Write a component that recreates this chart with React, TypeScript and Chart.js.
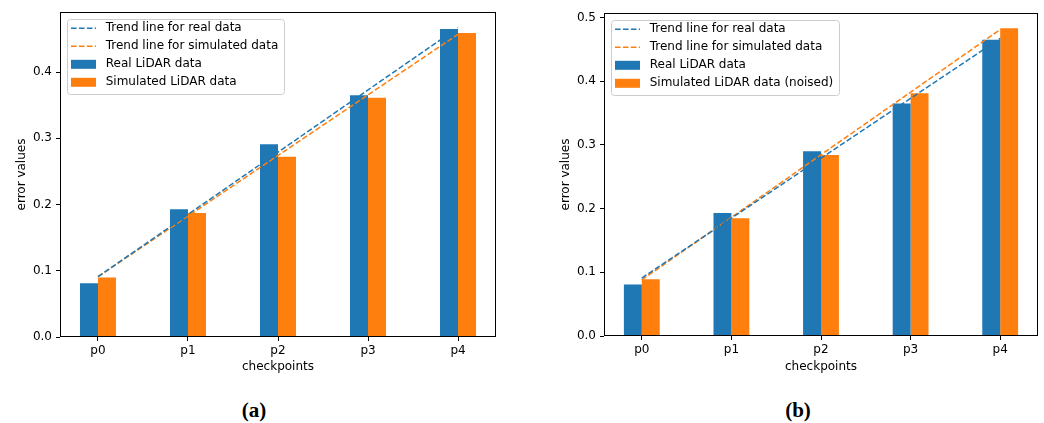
import React, { useEffect, useRef } from 'react';
import { Chart, registerables } from 'chart.js';

Chart.register(...registerables);

// ---------- data ----------
const categories = ['p0', 'p1', 'p2', 'p3', 'p4'];
const trendX = [0, 4];

const realA = [0.081, 0.193, 0.291, 0.365, 0.465];
const simA = [0.090, 0.187, 0.272, 0.361, 0.459];
const trendRealA = [0.091, 0.467];
const trendSimA = [0.091, 0.457];
const yTicksA = [0, 0.1, 0.2, 0.3, 0.4];

const realB = [0.081, 0.193, 0.290, 0.365, 0.465];
const simB = [0.089, 0.185, 0.284, 0.381, 0.483];
const trendRealB = [0.091, 0.467];
const trendSimB = [0.088, 0.481];
const yTicksB = [0, 0.1, 0.2, 0.3, 0.4, 0.5];

const labelTrendReal = 'Trend line for real data';
const labelTrendSim = 'Trend line for simulated data';
const labelReal = 'Real LiDAR data';
const labelSimA = 'Simulated LiDAR data';
const labelSimB = 'Simulated LiDAR data (noised)';
const xTitle = 'checkpoints';
const yTitle = 'error values';

// ---------- styles ----------
const BLUE = '#1f77b4';
const ORANGE = '#ff7f0e';
const FAMILY = "'DejaVu Sans', sans-serif";
const FSIZE = 12;
const DASH = [5.55, 2.4];

const mplPlugin = {
  id: 'mplFrameLegend',
  afterDatasetsDraw(chart: any) {
    const ctx = chart.ctx as CanvasRenderingContext2D;
    const { left, top, right, bottom } = chart.chartArea;
    ctx.save();
    // spines
    ctx.strokeStyle = '#000';
    ctx.lineWidth = 1;
    ctx.setLineDash([]);
    const l = Math.floor(left) + 0.5;
    const t = Math.floor(top) + 0.5;
    const r = Math.round(right) - 0.5;
    const b = Math.round(bottom) - 0.5;
    ctx.strokeRect(l, t, r - l, b - t);

    // legend
    const ds = chart.data.datasets;
    ctx.font = `${FSIZE}px ${FAMILY}`;
    const widths = ds.map((d: any) => ctx.measureText(d.label).width);
    const maxW = Math.max(...widths);
    const lx = left + 6.7;
    const ly = top + 7;
    const w = 4.3 + 34.7 + maxW + 5.4;
    const h = 75;
    ctx.beginPath();
    (ctx as any).roundRect(Math.round(lx) + 0.5, Math.round(ly) + 0.5, w, h, 3);
    ctx.fillStyle = 'rgba(255,255,255,0.8)';
    ctx.fill();
    ctx.strokeStyle = '#cccccc';
    ctx.lineWidth = 1;
    ctx.stroke();
    ds.forEach((d: any, i: number) => {
      const y = ly + 9.3 + i * 18;
      const color = d.type === 'line' ? d.borderColor : d.backgroundColor;
      if (d.type === 'line') {
        ctx.beginPath();
        ctx.strokeStyle = color;
        ctx.lineWidth = 1.5;
        ctx.setLineDash(DASH);
        ctx.moveTo(lx + 4.3, y);
        ctx.lineTo(lx + 29.3, y);
        ctx.stroke();
        ctx.setLineDash([]);
      } else {
        ctx.fillStyle = color;
        ctx.fillRect(lx + 4.3, y - 4.5, 25, 9);
      }
      ctx.fillStyle = '#000';
      ctx.textBaseline = 'middle';
      ctx.textAlign = 'left';
      ctx.fillText(d.label, lx + 39, y);
    });
    ctx.restore();
  },
};

type PanelProps = {
  left: number;
  width: number;
  height: number;
  padTop: number;
  padRight: number;
  xAxisH: number;
  real: number[];
  sim: number[];
  trendReal: number[];
  trendSim: number[];
  simLabel: string;
  yMax: number;
  yTicks: number[];
};

function Panel(p: PanelProps) {
  const ref = useRef<HTMLCanvasElement>(null);
  useEffect(() => {
    const font = { family: FAMILY, size: FSIZE };
    const gridOpts = {
      display: true,
      drawOnChartArea: false,
      drawTicks: true,
      tickLength: 4,
      tickWidth: 1,
      color: '#000',
      offset: false,
    };
    const chart = new Chart(ref.current as HTMLCanvasElement, {
      type: 'bar',
      data: {
        datasets: [
          {
            type: 'line',
            label: labelTrendReal,
            data: trendX.map((x, i) => ({ x, y: p.trendReal[i] })),
            borderColor: BLUE,
            backgroundColor: BLUE,
            borderWidth: 1.5,
            borderDash: DASH,
            pointRadius: 0,
            fill: false,
          },
          {
            type: 'line',
            label: labelTrendSim,
            data: trendX.map((x, i) => ({ x, y: p.trendSim[i] })),
            borderColor: ORANGE,
            backgroundColor: ORANGE,
            borderWidth: 1.5,
            borderDash: DASH,
            pointRadius: 0,
            fill: false,
          },
          {
            type: 'bar',
            label: labelReal,
            data: p.real.map((y, i) => ({ x: i, y })),
            backgroundColor: BLUE,
            categoryPercentage: 0.4,
            barPercentage: 1,
          },
          {
            type: 'bar',
            label: p.simLabel,
            data: p.sim.map((y, i) => ({ x: i, y })),
            backgroundColor: ORANGE,
            categoryPercentage: 0.4,
            barPercentage: 1,
          },
        ] as any,
      },
      options: {
        responsive: false,
        animation: false,
        events: [],
        layout: { padding: { top: p.padTop, right: p.padRight, left: 0, bottom: 0 } },
        plugins: { legend: { display: false }, tooltip: { enabled: false } },
        scales: {
          x: {
            type: 'linear',
            min: -0.422,
            max: 4.422,
            offset: false,
            afterBuildTicks: (s: any) => {
              s.ticks = categories.map((_, i) => ({ value: i }));
            },
            afterFit: (s: any) => {
              s.height = p.xAxisH;
            },
            grid: gridOpts,
            border: { display: false },
            ticks: {
              callback: (v: any) => categories[v],
              font,
              color: '#000',
              padding: 3.1,
              maxRotation: 0,
              autoSkip: false,
            },
            title: {
              display: true,
              text: xTitle,
              font,
              color: '#000',
              padding: { top: 0, bottom: 5.8 },
            },
          },
          y: {
            type: 'linear',
            min: 0,
            max: p.yMax,
            afterBuildTicks: (s: any) => {
              s.ticks = p.yTicks.map((v) => ({ value: v }));
            },
            afterFit: (s: any) => {
              s.width = 60;
            },
            grid: gridOpts,
            border: { display: false },
            ticks: {
              callback: (v: any) => Number(v).toFixed(1),
              font,
              color: '#000',
              padding: 4,
              autoSkip: false,
            },
            title: {
              display: true,
              text: yTitle,
              font,
              color: '#000',
              padding: { top: 14.3, bottom: 0 },
            },
          },
        } as any,
      },
      plugins: [mplPlugin],
    });
    return () => chart.destroy();
  }, []);
  return (
    <canvas
      ref={ref}
      width={p.width}
      height={p.height}
      style={{ position: 'absolute', left: p.left, top: 0, width: p.width, height: p.height }}
    />
  );
}

const captionStyle = (cx: number): React.CSSProperties => ({
  position: 'absolute',
  left: cx - 40,
  width: 80,
  top: 400,
  textAlign: 'center',
  fontFamily: "'Liberation Serif', serif",
  fontWeight: 'bold',
  fontSize: 21,
  lineHeight: '21px',
  color: '#000',
});

export default function App() {
  return (
    <div
      style={{
        position: 'absolute',
        left: 0,
        top: 0,
        width: 1044,
        height: 423,
        background: '#fff',
        overflow: 'hidden',
      }}
    >
      <Panel
        left={0}
        width={510}
        height={380}
        padTop={12}
        padRight={14}
        xAxisH={43}
        real={realA}
        sim={simA}
        trendReal={trendRealA}
        trendSim={trendSimA}
        simLabel={labelSimA}
        yMax={0.4906}
        yTicks={yTicksA}
      />
      <Panel
        left={544}
        width={500}
        height={380}
        padTop={13}
        padRight={6}
        xAxisH={44}
        real={realB}
        sim={simB}
        trendReal={trendRealB}
        trendSim={trendSimB}
        simLabel={labelSimB}
        yMax={0.507}
        yTicks={yTicksB}
      />
      <div style={captionStyle(254)}>(a)</div>
      <div style={captionStyle(798)}>(b)</div>
    </div>
  );
}
